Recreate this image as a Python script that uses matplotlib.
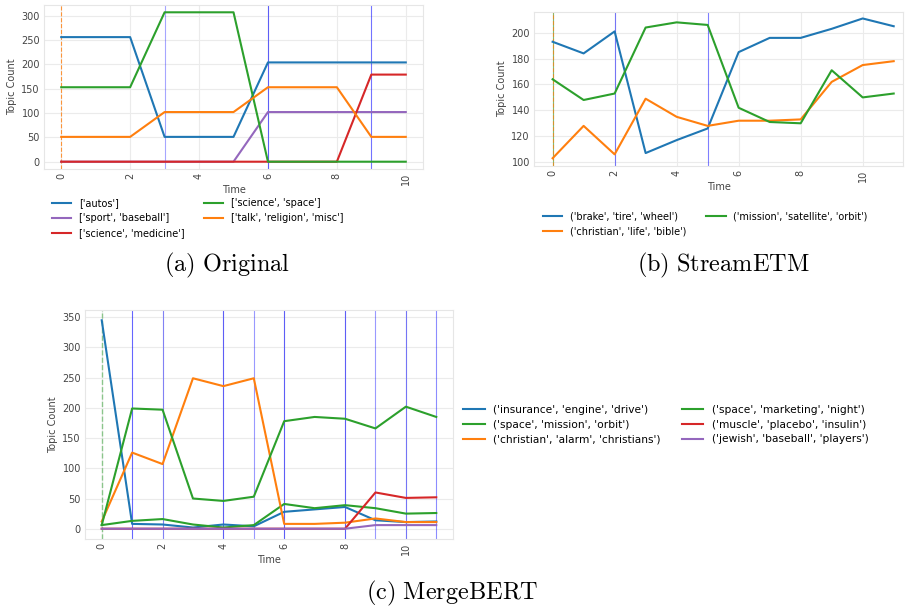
import matplotlib
matplotlib.use("Agg")
import matplotlib.pyplot as plt

# (a) Original
t_a = list(range(11))
autos = [256, 256, 256, 51, 51, 51, 204, 204, 204, 204, 204]
sport_baseball = [0, 0, 0, 0, 0, 0, 102, 102, 102, 102, 102]
science_medicine = [0, 0, 0, 0, 0, 0, 0, 0, 0, 179, 179]
science_space = [153, 153, 153, 307, 307, 307, 0, 0, 0, 0, 0]
talk_religion = [51, 51, 51, 102, 102, 102, 153, 153, 153, 51, 51]
vlines_a = [3, 6, 9]

# (b) StreamETM
t_b = list(range(12))
brake = [193, 184, 201, 107, 117, 126, 185, 196, 196, 203, 211, 205]
christian_b = [103, 128, 106, 149, 135, 128, 132, 132, 133, 162, 175, 178]
mission_b = [164, 148, 153, 204, 208, 206, 142, 131, 130, 171, 150, 153]
vlines_b = [2, 5]

# (c) MergeBERT
t_c = list(range(12))
insurance = [345, 8, 7, 2, 7, 4, 28, 32, 36, 14, 11, 12]
space_mission = [6, 13, 16, 7, 2, 6, 41, 34, 39, 34, 25, 26]
christian_c = [12, 126, 107, 249, 236, 249, 8, 8, 10, 17, 11, 11]
space_marketing = [6, 199, 197, 50, 46, 53, 178, 185, 182, 166, 202, 185]
muscle = [0, 0, 0, 0, 0, 0, 0, 0, 0, 60, 51, 52]
jewish = [0, 0, 0, 0, 0, 0, 0, 0, 0, 6, 6, 6]
vlines_c = [1, 2, 4, 5, 6, 8, 9, 10, 11]

plt.rcParams['mathtext.fontset'] = 'cm'
FS = 7
W, H = 905, 607
fig = plt.figure(figsize=(W / 100, H / 100), dpi=100)


def px_axes(x0, y0, x1, y1):
    # axes from pixel box (top-left origin)
    return fig.add_axes([x0 / W, 1 - y1 / H, (x1 - x0) / W, (y1 - y0) / H])


def style(ax):
    ax.grid(True, color='#ebebeb', lw=0.8)
    ax.set_axisbelow(True)
    for s in ax.spines.values():
        s.set_color('#e6e6e6')
        s.set_linewidth(0.8)
    ax.tick_params(length=0, labelsize=FS, colors='#444444', pad=3)
    ax.tick_params(axis='x', labelrotation=90)
    ax.set_xlabel('Time', fontsize=FS, color='#444444', labelpad=0)
    ax.set_ylabel('Topic Count', fontsize=FS, color='#444444', labelpad=3)


leg_kw = dict(ncol=2, loc='upper left', frameon=False, fontsize=FS,
              handlelength=2.0, columnspacing=2.0, labelspacing=0.5,
              borderaxespad=0)

# ---- (a)
ax = px_axes(44, 5, 423, 169)
style(ax)
ax.axvline(0, color='tab:orange', ls='--', lw=0.8, alpha=0.8)
for v, a in zip(vlines_a, [0.35, 0.6, 0.55]):
    ax.axvline(v, color='blue', lw=0.8, alpha=a)
ax.plot(t_a, autos, color='tab:blue', label="['autos']")
ax.plot(t_a, sport_baseball, color='tab:purple', label="['sport', 'baseball']")
ax.plot(t_a, science_medicine, color='tab:red', label="['science', 'medicine']")
ax.plot(t_a, science_space, color='tab:green', label="['science', 'space']")
ax.plot(t_a, talk_religion, color='tab:orange', label="['talk', 'religion', 'misc']")
ax.set_xlim(-0.5, 10.5)
ax.set_ylim(-15, 322)
ax.set_xticks([0, 2, 4, 6, 8, 10])
ax.legend(bbox_to_anchor=(0.01, -0.155), **leg_kw)

# ---- (b)
ax = px_axes(534, 12, 903, 166)
style(ax)
ax.axvline(0, color='tab:green', ls='-', lw=0.8, alpha=0.6)
ax.axvline(0, color='tab:orange', ls='--', lw=0.8, alpha=0.7)
for v in vlines_b:
    ax.axvline(v, color='blue', lw=0.8, alpha=0.5)
ax.plot(t_b, brake, color='tab:blue', label="('brake', 'tire', 'wheel')")
ax.plot(t_b, christian_b, color='tab:orange', label="('christian', 'life', 'bible')")
ax.plot(t_b, mission_b, color='tab:green', label="('mission', 'satellite', 'orbit')")
ax.set_xlim(-0.6, 11.3)
ax.set_ylim(97, 216)
ax.set_xticks([0, 2, 4, 6, 8, 10])
ax.legend(bbox_to_anchor=(0.014, -0.27), **leg_kw)

# ---- (c)
ax = px_axes(85, 310, 453, 539)
style(ax)
ax.axvline(0, color='tab:green', ls='--', lw=1.0, alpha=0.5)
for v, a in zip(vlines_c, [0.6, 0.45, 0.6, 0.4, 0.6, 0.6, 0.4, 0.5, 0.45]):
    ax.axvline(v, color='blue', lw=0.8, alpha=a)
ax.plot(t_c, insurance, color='tab:blue', label="('insurance', 'engine', 'drive')")
ax.plot(t_c, space_mission, color='tab:green', label="('space', 'mission', 'orbit')")
ax.plot(t_c, christian_c, color='tab:orange', label="('christian', 'alarm', 'christians')")
ax.plot(t_c, space_marketing, color='tab:green', label="('space', 'marketing', 'night')")
ax.plot(t_c, muscle, color='tab:red', label="('muscle', 'placebo', 'insulin')")
ax.plot(t_c, jewish, color='tab:purple', label="('jewish', 'baseball', 'players')")
ax.set_xlim(-0.55, 11.55)
ax.set_ylim(-17, 362)
ax.set_xticks([0, 2, 4, 6, 8, 10])
leg_c = dict(leg_kw, loc='center left', fontsize=7.7, labelspacing=0.45)
ax.legend(bbox_to_anchor=(1.016, 0.5), **leg_c)

# captions
cap_kw = dict(fontsize=17.5, ha='center', va='center')
fig.text(227 / W, 1 - 265 / H, r'$\mathrm{(a)\ Original}$', **cap_kw)
fig.text(723 / W, 1 - 265 / H, r'$\mathrm{(b)\ StreamETM}$', **cap_kw)
fig.text(452 / W, 1 - 593 / H, r'$\mathrm{(c)\ MergeBERT}$', **cap_kw)

fig.savefig('out.png', dpi=100)
